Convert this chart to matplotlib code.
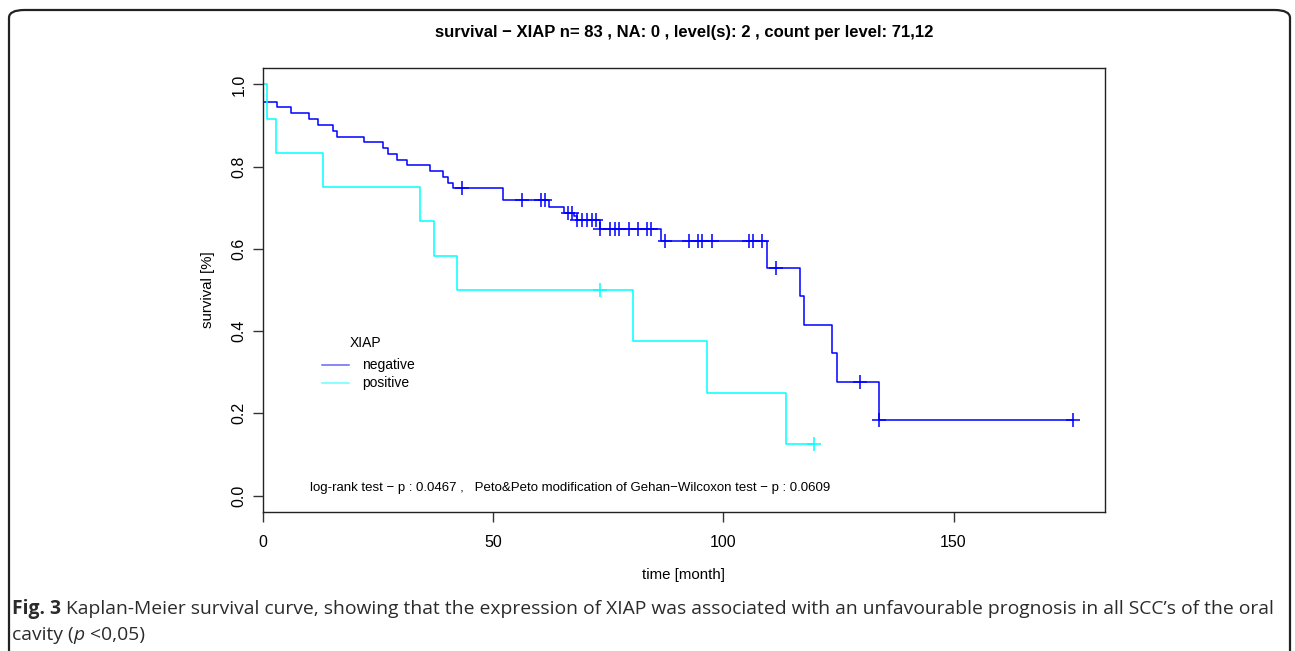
"""Kaplan-Meier survival curve for XIAP expression (Fig. 3)."""

import numpy as np
import matplotlib
matplotlib.use("Agg")
import matplotlib.pyplot as plt
from matplotlib.patches import FancyBboxPatch
from matplotlib.lines import Line2D

# step curves: time [month] at which the survival value starts
neg_time = [0, 0.1, 3.0, 6.0, 10.0, 12.0, 15.1, 16.0, 22.0, 26.1, 27.1, 29.1, 31.2,
            36.2, 39.2, 40.1, 41.2, 52.2, 62.2, 65.3, 67.5, 68.1, 73.3, 86.4,
            109.5, 116.6, 117.5, 123.6, 124.6, 133.7]
neg_surv = [1.0, 0.958, 0.944, 0.930, 0.916, 0.902, 0.887, 0.873, 0.859, 0.845,
            0.831, 0.817, 0.803, 0.789, 0.775, 0.761, 0.747, 0.718, 0.703, 0.688,
            0.679, 0.670, 0.648, 0.619, 0.554, 0.485, 0.416, 0.347, 0.277, 0.185]
neg_cens = [43.2, 56.2, 60.4, 61.3, 66.3, 67.2, 68.3, 69.3, 70.4, 71.4, 72.3, 73.3,
            75.4, 76.4, 77.4, 79.4, 81.5, 83.5, 84.3, 87.4, 92.5, 94.5, 95.4, 97.5,
            105.6, 106.5, 108.5, 111.5, 129.6, 133.7, 175.9]

pos_time = [0, 0.9, 2.9, 13.0, 34.1, 37.2, 42.1, 80.3, 96.4, 113.5]
pos_surv = [1.0, 0.917, 0.833, 0.750, 0.667, 0.583, 0.500, 0.375, 0.250, 0.125]
pos_cens = [73.3, 119.6]

groups = ["negative", "positive"]
colors = ["blue", "cyan"]

TITLE = "survival \u2212 XIAP n= 83 , NA: 0 , level(s): 2 , count per level: 71,12"
TEST_TEXT = ("log-rank test \u2212 p : 0.0467 ,   Peto&Peto modification of "
             "Gehan\u2212Wilcoxon test \u2212 p : 0.0609")

W, H = 1295, 651
plt.rcParams["font.family"] = ["Liberation Sans", "DejaVu Sans"]


def surv_at(times, surv, t):
    idx = np.searchsorted(times, t, side="right") - 1
    return np.asarray(surv)[idx]


def main() -> None:
    fig = plt.figure(figsize=(W / 100, H / 100), dpi=100)

    # rounded frame around the whole figure
    frame = FancyBboxPatch((9 / W, -10 / H), (1281 / W), (651 / H),
                           boxstyle="round,pad=0,rounding_size=0.012",
                           transform=fig.transFigure, fill=False,
                           edgecolor="#222222", linewidth=1.6)
    fig.patches.append(frame)

    left, right, top, bottom = 263, 1105, 68, 512
    ax = fig.add_axes([left / W, 1 - bottom / H, (right - left) / W, (bottom - top) / H])

    for times, surv, cens, color in [(neg_time, neg_surv, neg_cens, colors[0]),
                                     (pos_time, pos_surv, pos_cens, colors[1])]:
        t_end = max(times[-1], max(cens))
        ax.step(list(times) + [t_end], list(surv) + [surv[-1]], where="post",
                color=color, linewidth=1.1)
        ax.plot(cens, surv_at(times, surv, cens), linestyle="none", marker="+",
                markersize=10, markeredgewidth=1.1, color=color)

    ax.set_xlim(0, 182.9)
    ax.set_ylim(-0.04, 1.04)
    ax.set_xticks([0, 50, 100, 150])
    ax.set_yticks([0.0, 0.2, 0.4, 0.6, 0.8, 1.0])
    ax.set_yticklabels(["0.0", "0.2", "0.4", "0.6", "0.8", "1.0"], rotation=90, va="center")
    ax.tick_params(direction="out", length=7, width=1, labelsize=11.5, color="#333333")
    ax.tick_params(axis="y", pad=5)
    ax.tick_params(axis="x", pad=9.5)
    for sp in ax.spines.values():
        sp.set_color("#222222")
        sp.set_linewidth(1.0)

    ax.set_xlabel("time [month]", fontsize=10.8, labelpad=13)
    ax.set_ylabel("survival [%]", fontsize=10.8, labelpad=12)
    fig.text(0.5 * (left + right) / W, 1 - 33 / H, TITLE, ha="center", va="center",
             fontsize=12, fontweight="bold")

    # legend drawn as in the R output
    def ax_xy(px, py):
        return (px - left) / (right - left), (bottom - py) / (bottom - top)

    ax.text(*ax_xy(350, 343), "XIAP", transform=ax.transAxes, fontsize=10,
            ha="left", va="center")
    for i, (name, color) in enumerate(zip(groups, colors)):
        y = 365 + 17.5 * i
        x0, yy = ax_xy(322, y)
        x1, _ = ax_xy(349, y)
        ax.add_line(Line2D([x0, x1], [yy, yy], transform=ax.transAxes, color=color,
                           linewidth=1.1, alpha=0.6))
        ax.text(*ax_xy(362, y), name, transform=ax.transAxes, fontsize=10,
                ha="left", va="center")

    ax.text(*ax_xy(310, 488), TEST_TEXT, transform=ax.transAxes, fontsize=9.5,
            ha="left", va="center")

    # caption with mixed fonts
    fig.canvas.draw()
    renderer = fig.canvas.get_renderer()
    cap = dict(fontsize=13.9, color="#2b2b2b", family=["Open Sans", "DejaVu Sans"],
               va="baseline")

    def chain(x_px, y_px, parts):
        x = x_px
        for txt, extra in parts:
            t = fig.text(x / W, 1 - y_px / H, txt, **cap, **extra)
            x = t.get_window_extent(renderer).x1
        return x

    chain(12, 614, [("Fig. 3", {"fontweight": "bold"}),
                    (" Kaplan-Meier survival curve, showing that the expression of XIAP "
                     "was associated with an unfavourable prognosis in all SCC\u2019s of the oral",
                     {})])
    chain(12, 640, [("cavity (", {}), ("p", {"style": "italic"}), (" <0,05)", {})])

    fig.savefig("out.png", dpi=100)
    plt.close(fig)


if __name__ == "__main__":
    main()
